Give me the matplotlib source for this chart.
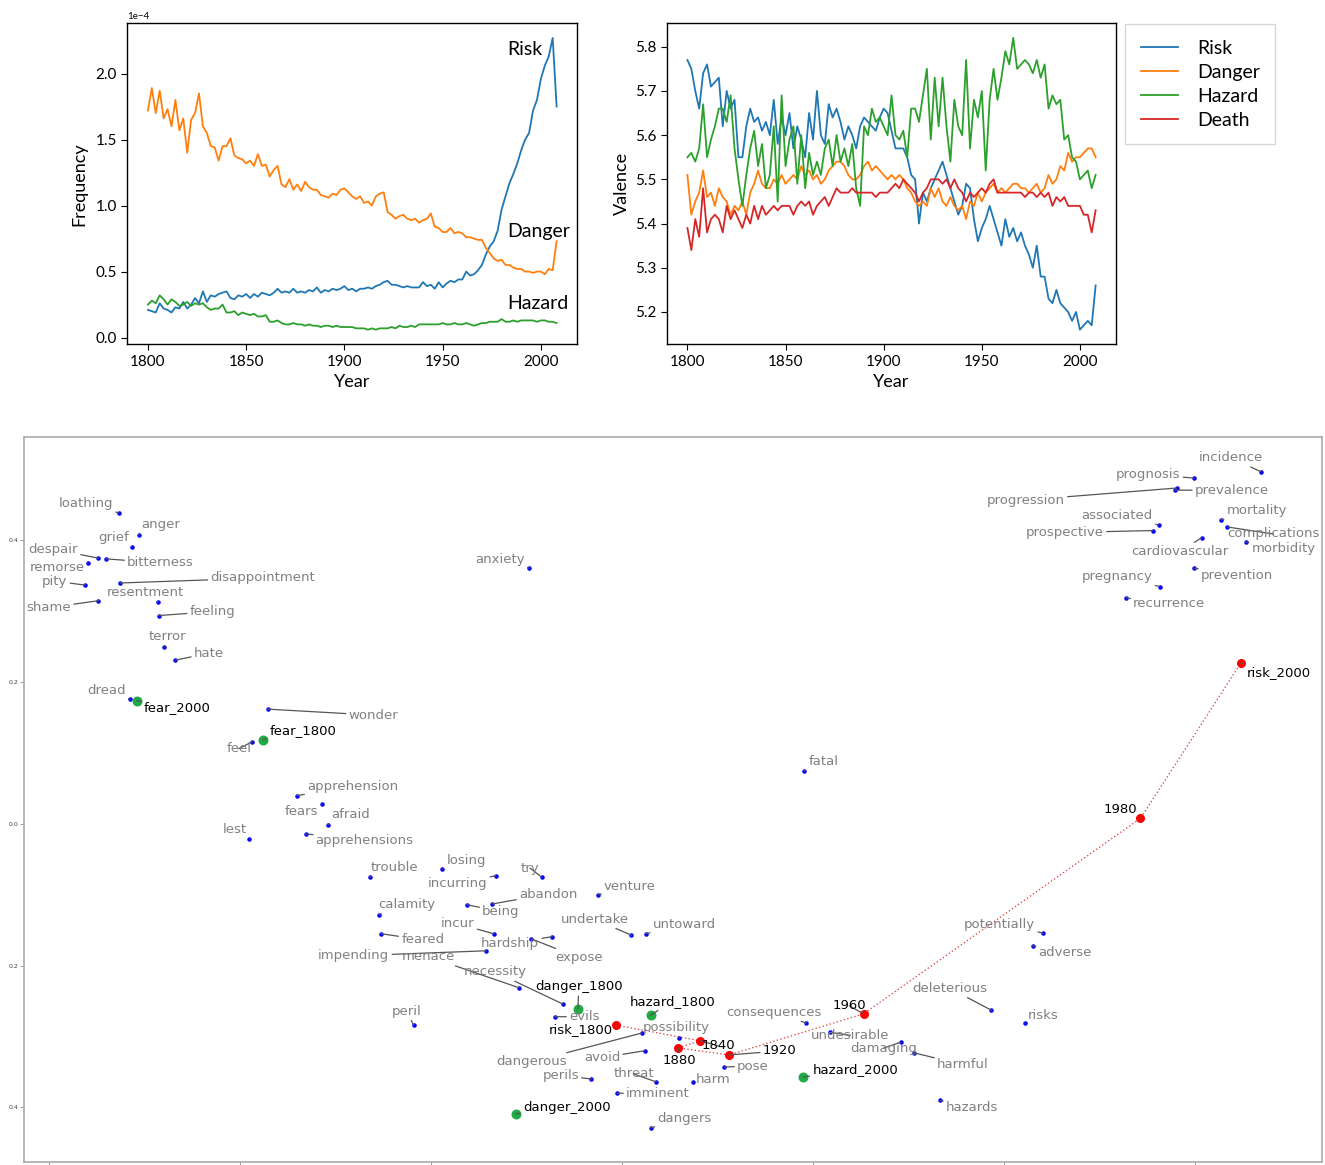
import numpy as np
import matplotlib.pyplot as plt

# ---------------- time series (two-year sampling) ----------------
years = np.arange(1800, 2009, 2)

# relative frequency, in units of 1e-4
freq_risk = [0.21, 0.20, 0.19, 0.26, 0.22,  0.21, 0.19, 0.23, 0.22, 0.27,
             0.22, 0.25, 0.30, 0.26, 0.35,  0.27, 0.32, 0.31, 0.33, 0.34,
             0.35, 0.30, 0.29, 0.32, 0.31,  0.33, 0.30, 0.33, 0.31, 0.34,
             0.33, 0.32, 0.34, 0.37, 0.34,  0.35, 0.34, 0.37, 0.34, 0.35,
             0.34, 0.36, 0.35, 0.38, 0.34,  0.36, 0.35, 0.37, 0.36, 0.37,
             0.39, 0.36, 0.37, 0.35, 0.37,  0.37, 0.38, 0.37, 0.39, 0.40,
             0.42, 0.43, 0.40, 0.40, 0.39,  0.38, 0.39, 0.38, 0.38, 0.38,
             0.42, 0.39, 0.40, 0.37, 0.42,  0.38, 0.41, 0.43, 0.42, 0.44,
             0.44, 0.50, 0.47, 0.48, 0.51,  0.55, 0.63, 0.69, 0.73, 0.81,
             0.97, 1.07, 1.17, 1.24, 1.32,  1.42, 1.50, 1.55, 1.72, 1.80,
             1.96, 2.06, 2.13, 2.27, 1.75]
freq_danger = [1.72, 1.89, 1.70, 1.87, 1.66,  1.73, 1.60, 1.80, 1.57, 1.66,
               1.40, 1.65, 1.70, 1.85, 1.60,  1.55, 1.45, 1.44, 1.34, 1.45,
               1.45, 1.51, 1.38, 1.36, 1.35,  1.32, 1.34, 1.30, 1.39, 1.30,
               1.31, 1.22, 1.27, 1.30, 1.16,  1.14, 1.20, 1.12, 1.16, 1.11,
               1.18, 1.14, 1.12, 1.12, 1.08,  1.07, 1.06, 1.09, 1.08, 1.12,
               1.13, 1.10, 1.07, 1.05, 1.07,  1.02, 1.03, 1.00, 1.07, 1.09,
               1.10, 0.95, 0.93, 0.90, 0.92,  0.93, 0.90, 0.89, 0.90, 0.87,
               0.89, 0.90, 0.94, 0.84, 0.83,  0.80, 0.80, 0.83, 0.79, 0.80,
               0.79, 0.76, 0.76, 0.75, 0.74,  0.74, 0.68, 0.64, 0.60, 0.58,
               0.59, 0.55, 0.55, 0.53, 0.52,  0.52, 0.50, 0.50, 0.49, 0.50,
               0.50, 0.48, 0.52, 0.51, 0.73]
freq_hazard = [0.25, 0.28, 0.26, 0.32, 0.29,  0.25, 0.29, 0.27, 0.24, 0.25,
               0.27, 0.24, 0.26, 0.25, 0.26,  0.23, 0.21, 0.22, 0.22, 0.25,
               0.19, 0.19, 0.20, 0.17, 0.19,  0.18, 0.17, 0.18, 0.16, 0.16,
               0.17, 0.12, 0.12, 0.13, 0.11,  0.10, 0.10, 0.11, 0.10, 0.10,
               0.09, 0.10, 0.09, 0.09, 0.08,  0.09, 0.09, 0.08, 0.09, 0.08,
               0.08, 0.08, 0.08, 0.07, 0.07,  0.07, 0.06, 0.07, 0.06, 0.07,
               0.07, 0.07, 0.08, 0.07, 0.09,  0.08, 0.08, 0.09, 0.08, 0.10,
               0.10, 0.10, 0.10, 0.10, 0.10,  0.11, 0.10, 0.10, 0.11, 0.10,
               0.10, 0.11, 0.10, 0.09, 0.10,  0.11, 0.11, 0.12, 0.12, 0.12,
               0.14, 0.12, 0.12, 0.13, 0.12,  0.13, 0.13, 0.13, 0.13, 0.12,
               0.13, 0.13, 0.12, 0.12, 0.11]

# mean valence of context words
val_risk = [5.77, 5.75, 5.70, 5.66, 5.74,  5.76, 5.71, 5.72, 5.73, 5.62,
            5.70, 5.66, 5.68, 5.55, 5.55,  5.62, 5.66, 5.63, 5.64, 5.61,
            5.63, 5.60, 5.68, 5.58, 5.64,  5.60, 5.65, 5.57, 5.62, 5.59,
            5.55, 5.65, 5.59, 5.70, 5.60,  5.58, 5.67, 5.64, 5.66, 5.63,
            5.59, 5.62, 5.60, 5.57, 5.62,  5.64, 5.63, 5.62, 5.61, 5.64,
            5.66, 5.65, 5.61, 5.57, 5.57,  5.57, 5.55, 5.51, 5.50, 5.40,
            5.47, 5.45, 5.48, 5.50, 5.52,  5.54, 5.51, 5.48, 5.45, 5.42,
            5.44, 5.49, 5.48, 5.41, 5.36,  5.39, 5.41, 5.44, 5.41, 5.38,
            5.35, 5.41, 5.37, 5.39, 5.36,  5.38, 5.35, 5.33, 5.30, 5.35,
            5.28, 5.28, 5.23, 5.22, 5.25,  5.22, 5.21, 5.20, 5.18, 5.20,
            5.16, 5.17, 5.18, 5.17, 5.26]
val_danger = [5.51, 5.42, 5.45, 5.47, 5.52,  5.46, 5.47, 5.44, 5.48, 5.46,
              5.45, 5.42, 5.44, 5.43, 5.45,  5.42, 5.47, 5.49, 5.52, 5.49,
              5.48, 5.48, 5.50, 5.49, 5.51,  5.49, 5.50, 5.51, 5.50, 5.53,
              5.51, 5.52, 5.50, 5.51, 5.49,  5.50, 5.52, 5.53, 5.54, 5.54,
              5.53, 5.51, 5.50, 5.50, 5.51,  5.53, 5.54, 5.52, 5.53, 5.52,
              5.51, 5.50, 5.51, 5.50, 5.51,  5.50, 5.48, 5.47, 5.45, 5.44,
              5.45, 5.44, 5.48, 5.46, 5.48,  5.45, 5.44, 5.46, 5.44, 5.43,
              5.44, 5.41, 5.45, 5.44, 5.47,  5.45, 5.47, 5.48, 5.49, 5.47,
              5.48, 5.47, 5.48, 5.49, 5.49,  5.48, 5.48, 5.47, 5.48, 5.49,
              5.47, 5.48, 5.51, 5.49, 5.50,  5.53, 5.52, 5.56, 5.54, 5.55,
              5.55, 5.56, 5.57, 5.57, 5.55]
val_hazard = [5.55, 5.56, 5.54, 5.57, 5.67,  5.55, 5.59, 5.62, 5.66, 5.66,
              5.63, 5.69, 5.57, 5.50, 5.44,  5.51, 5.57, 5.61, 5.53, 5.58,
              5.48, 5.51, 5.62, 5.45, 5.69,  5.53, 5.59, 5.62, 5.49, 5.60,
              5.48, 5.56, 5.51, 5.54, 5.51,  5.57, 5.59, 5.53, 5.60, 5.54,
              5.57, 5.53, 5.58, 5.48, 5.44,  5.62, 5.60, 5.66, 5.63, 5.64,
              5.62, 5.60, 5.69, 5.60, 5.59,  5.61, 5.55, 5.66, 5.66, 5.63,
              5.69, 5.75, 5.59, 5.73, 5.62,  5.73, 5.62, 5.54, 5.68, 5.62,
              5.60, 5.77, 5.57, 5.68, 5.64,  5.70, 5.52, 5.68, 5.75, 5.68,
              5.73, 5.79, 5.76, 5.82, 5.75,  5.76, 5.77, 5.76, 5.74, 5.77,
              5.73, 5.76, 5.66, 5.69, 5.67,  5.68, 5.59, 5.60, 5.55, 5.54,
              5.50, 5.51, 5.52, 5.48, 5.51]
val_death = [5.39, 5.34, 5.41, 5.37, 5.48,  5.38, 5.41, 5.42, 5.41, 5.38,
             5.44, 5.41, 5.43, 5.41, 5.39,  5.42, 5.40, 5.44, 5.41, 5.44,
             5.42, 5.43, 5.44, 5.43, 5.44,  5.44, 5.44, 5.42, 5.44, 5.45,
             5.44, 5.45, 5.42, 5.44, 5.45,  5.46, 5.44, 5.46, 5.48, 5.47,
             5.47, 5.47, 5.48, 5.47, 5.47,  5.47, 5.47, 5.47, 5.46, 5.47,
             5.47, 5.47, 5.48, 5.49, 5.48,  5.50, 5.49, 5.48, 5.47, 5.45,
             5.47, 5.48, 5.50, 5.50, 5.50,  5.49, 5.50, 5.48, 5.50, 5.48,
             5.47, 5.45, 5.47, 5.46, 5.47,  5.48, 5.47, 5.49, 5.50, 5.47,
             5.47, 5.47, 5.47, 5.47, 5.47,  5.47, 5.46, 5.47, 5.47, 5.46,
             5.47, 5.46, 5.47, 5.44, 5.46,  5.45, 5.46, 5.44, 5.44, 5.44,
             5.44, 5.42, 5.42, 5.38, 5.43]

# ---------------- 2-d embedding of nearest neighbours ----------------
neighbor_words = ['loathing', 'anger', 'grief', 'despair', 'bitterness', 'remorse',
                  'pity', 'disappointment', 'resentment', 'shame', 'feeling', 'terror',
                  'hate', 'dread', 'wonder', 'feel', 'apprehension', 'fears', 'afraid',
                  'lest', 'apprehensions', 'anxiety', 'fatal', 'trouble', 'calamity',
                  'feared', 'impending', 'peril', 'losing', 'incurring', 'try', 'venture',
                  'abandon', 'being', 'undertake', 'untoward', 'incur', 'hardship',
                  'expose', 'menace', 'necessity', 'evils', 'dangerous', 'possibility',
                  'avoid', 'perils', 'threat', 'harm', 'pose', 'imminent', 'dangers',
                  'consequences', 'undesirable', 'damaging', 'harmful', 'potentially',
                  'adverse', 'deleterious', 'risks', 'hazards', 'incidence', 'prognosis',
                  'prevalence', 'progression', 'associated', 'prospective', 'mortality',
                  'complications', 'morbidity', 'cardiovascular', 'prevention',
                  'pregnancy', 'recurrence']
neighbor_x = [-0.527, -0.506, -0.513, -0.548, -0.540, -0.559,
              -0.562, -0.525, -0.486, -0.548, -0.485, -0.479,
              -0.468, -0.515, -0.371, -0.387, -0.340, -0.314, -0.308,
              -0.390, -0.331, -0.097, 0.191, -0.264, -0.254,
              -0.252, -0.142, -0.218, -0.188, -0.132, -0.084, -0.025,
              -0.136, -0.162, 0.010, 0.025, -0.134, -0.073,
              -0.095, -0.108, -0.062, -0.070, 0.021, 0.060,
              0.024, -0.032, 0.036, 0.074, 0.107, -0.005, 0.030,
              0.193, 0.218, 0.292, 0.306, 0.441,
              0.430, 0.387, 0.422, 0.333, 0.669, 0.599,
              0.579, 0.581, 0.562, 0.556, 0.627,
              0.634, 0.653, 0.607, 0.599,
              0.563, 0.528]
neighbor_y = [0.439, 0.408, 0.391, 0.375, 0.374, 0.368,
              0.337, 0.340, 0.313, 0.315, 0.294, 0.250,
              0.231, 0.176, 0.162, 0.116, 0.040, 0.028, -0.001,
              -0.021, -0.014, 0.361, 0.075, -0.075, -0.128,
              -0.155, -0.179, -0.284, -0.064, -0.073, -0.075, -0.100,
              -0.113, -0.114, -0.157, -0.155, -0.155, -0.159,
              -0.162, -0.231, -0.254, -0.272, -0.295, -0.302,
              -0.320, -0.360, -0.364, -0.364, -0.343, -0.380, -0.429,
              -0.281, -0.294, -0.308, -0.323, -0.154,
              -0.172, -0.263, -0.281, -0.390, 0.497, 0.488,
              0.471, 0.474, 0.422, 0.414, 0.429,
              0.419, 0.398, 0.404, 0.361,
              0.335, 0.319]

target_words = ['fear_2000', 'fear_1800', 'danger_1800', 'hazard_1800',
                'danger_2000', 'hazard_2000']
target_x = [-0.508, -0.376, -0.046, 0.030, -0.111, 0.190]
target_y = [0.174, 0.119, -0.261, -0.270, -0.409, -0.357]

risk_path_words = ['risk_1800', '1840', '1880', '1920', '1960', '1980', 'risk_2000']
risk_path_x = [-0.006, 0.082, 0.059, 0.112, 0.253, 0.543, 0.648]
risk_path_y = [-0.284, -0.306, -0.316, -0.326, -0.268, 0.008, 0.227]

# label placement, pixel shift from the point (right, down)
shift = {
    'loathing': (-60, -9), 'anger': (3, -10), 'grief': (-34, -9), 'despair': (-70, -9),
    'bitterness': (21, 4), 'remorse': (-58, 4), 'pity': (-43, -4),
    'disappointment': (90, -5), 'resentment': (-51, -10), 'shame': (-72, 7),
    'feeling': (31, -4), 'terror': (-16, -10), 'hate': (19, -7), 'dread': (-43, -9),
    'wonder': (81, 6), 'feel': (-26, 7), 'apprehension': (10, -9), 'fears': (-37, 7),
    'afraid': (4, -10), 'lest': (-27, -9), 'apprehensions': (10, 7),
    'anxiety': (-54, -9), 'fatal': (4, -9), 'trouble': (1, -10), 'calamity': (-1, -10),
    'feared': (20, 6), 'impending': (-168, 5), 'peril': (-22, -14), 'losing': (4, -9),
    'incurring': (-68, 8), 'try': (-21, -9), 'venture': (6, -8), 'abandon': (27, -10),
    'being': (15, 7), 'undertake': (-71, -16), 'untoward': (7, -9), 'incur': (-53, -10),
    'hardship': (-71, 7), 'expose': (24, 19), 'menace': (-117, -31),
    'necessity': (-99, -32), 'evils': (14, 0), 'dangerous': (-146, 29),
    'possibility': (-36, -10), 'avoid': (-61, 7), 'perils': (-49, -4),
    'threat': (-43, -8), 'harm': (3, -2), 'pose': (13, -1), 'imminent': (9, 0),
    'dangers': (7, -9), 'consequences': (-80, -11), 'undesirable': (-19, 3),
    'damaging': (-51, 6), 'harmful': (23, 12), 'potentially': (-79, -9),
    'adverse': (6, 7), 'deleterious': (-79, -22), 'risks': (3, -8), 'hazards': (6, 7),
    'incidence': (-62, -14), 'prognosis': (-78, -4), 'prevalence': (20, 0),
    'progression': (-190, 12), 'associated': (-77, -9), 'prospective': (-127, 2),
    'mortality': (6, -9), 'complications': (0, 7), 'morbidity': (6, 7),
    'cardiovascular': (-70, 14), 'prevention': (7, 7), 'pregnancy': (-78, -10),
    'recurrence': (7, 6),
    'fear_2000': (7, 7), 'fear_1800': (7, -9), 'danger_1800': (-43, -22),
    'hazard_1800': (-21, -14), 'danger_2000': (7, -6), 'hazard_2000': (9, -7),
    'risk_1800': (-67, 4), '1840': (1, 5), '1880': (-16, 13), '1920': (34, -4),
    '1960': (-31, -8), '1980': (-37, -9), 'risk_2000': (6, 9),
}

c_blue, c_orange, c_green, c_red = '#1f77b4', '#ff7f0e', '#2ca02c', '#d62728'
top_font = 'Lato'

fig = plt.figure(figsize=(13.25, 11.65), dpi=100)

# ---------- frequency panel ----------
ax1 = fig.add_axes([0.0962, 0.7045, 0.3393, 0.2755])
ax1.plot(years, np.array(freq_risk) * 1e-4, color=c_blue, lw=1.3)
ax1.plot(years, np.array(freq_danger) * 1e-4, color=c_orange, lw=1.3)
ax1.plot(years, np.array(freq_hazard) * 1e-4, color=c_green, lw=1.3)
ax1.ticklabel_format(axis='y', style='sci', scilimits=(0, 0))
ax1.set_xticks([1800, 1850, 1900, 1950, 2000])
ax1.set_xlabel('Year', fontsize=13, family=top_font)
ax1.set_ylabel('Frequency', fontsize=13, family=top_font, labelpad=6)
ax1.yaxis.get_offset_text().set_fontsize(7)
ax1.yaxis.get_offset_text().set_family(top_font)
for name, yy in [('Risk', 2.18e-4), ('Danger', 0.80e-4), ('Hazard', 0.26e-4)]:
    ax1.text(1983, yy, name, fontsize=14, family=top_font, va='center', ha='left')

# ---------- valence panel ----------
ax2 = fig.add_axes([0.5034, 0.7045, 0.3389, 0.2755])
ax2.plot(years, val_risk, color=c_blue, lw=1.3, label='Risk')
ax2.plot(years, val_danger, color=c_orange, lw=1.3, label='Danger')
ax2.plot(years, val_hazard, color=c_green, lw=1.3, label='Hazard')
ax2.plot(years, val_death, color=c_red, lw=1.3, label='Death')
ax2.set_xticks([1800, 1850, 1900, 1950, 2000])
ax2.set_xlabel('Year', fontsize=13, family=top_font)
ax2.set_ylabel('Valence', fontsize=13, family=top_font)
fig.legend(loc='upper left', bbox_to_anchor=(1125 / 1325, 1 - 24 / 1165),
           borderaxespad=0, prop={'family': top_font, 'size': 14}, fancybox=False,
           edgecolor='#cccccc', labelspacing=0.36, handlelength=1.9,
           handletextpad=1.0, borderpad=0.8)

for ax in (ax1, ax2):
    ax.tick_params(labelsize=11, length=4, width=0.8)
    for lab in ax.get_xticklabels() + ax.get_yticklabels():
        lab.set_family(top_font)
    for sp in ax.spines.values():
        sp.set_linewidth(1.0)

# ---------- embedding panel ----------
ax3 = fig.add_axes([0.0181, 0.0026, 0.9796, 0.6223])
ax3.set_xlim(-0.626, 0.733)
ax3.set_ylim(-0.477, 0.546)
ax3.set_xticks(np.arange(-0.6, 0.61, 0.2))
ax3.set_xticklabels([])
ax3.set_yticks([-0.4, -0.2, 0.0, 0.2, 0.4])
ax3.set_yticklabels(['0.4', '0.2', '0.0', '0.2', '0.4'])
ax3.tick_params(labelsize=4.5, length=3, width=0.6, color='#888888',
                labelcolor='#444444', pad=1)
for sp in ax3.spines.values():
    sp.set_color('#aaaaaa')
    sp.set_linewidth(1.2)

ax3.plot(risk_path_x, risk_path_y, color=c_red, ls=':', lw=1.0, alpha=0.8, zorder=2)
ax3.scatter(neighbor_x, neighbor_y, s=5, color='blue', zorder=3)
ax3.scatter(target_x, target_y, s=38, color='#22aa44', zorder=3)
ax3.scatter(risk_path_x, risk_path_y, s=30, color='red', zorder=3)

line_style = dict(arrowstyle='-', color='#555555', lw=0.9, shrinkA=0, shrinkB=0)


def put_label(word, x, y, color):
    dx, dy = shift[word]
    ax3.annotate(word, xy=(x, y), xytext=(dx * 0.72, -dy * 0.72),
                 textcoords='offset points', ha='left', va='center',
                 fontsize=9.5, color=color, arrowprops=line_style, zorder=4)


for w, x, y in zip(neighbor_words, neighbor_x, neighbor_y):
    put_label(w, x, y, '#808080')
for w, x, y in zip(target_words, target_x, target_y):
    put_label(w, x, y, 'black')
for w, x, y in zip(risk_path_words, risk_path_x, risk_path_y):
    put_label(w, x, y, 'black')

fig.savefig('out.png', dpi=100)
